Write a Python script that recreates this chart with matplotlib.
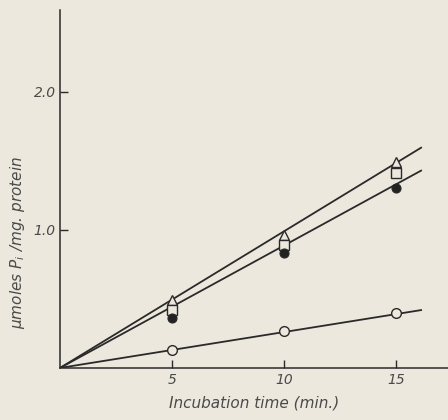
import matplotlib
matplotlib.use('Agg')
import matplotlib.pyplot as plt
import numpy as np

# Incubation time (min.)
times = [5, 10, 15]
# umoles Pi / mg protein
triangles = [0.49, 0.96, 1.49]
squares = [0.42, 0.89, 1.41]
filled_circles = [0.36, 0.83, 1.30]
open_circles = [0.13, 0.27, 0.40]
# fitted lines: slope per minute, drawn from the origin
line_slopes = [0.099, 0.0887, 0.026]
line_end = 16.1

bg = '#ece8de'
ink = '#2a2a2a'
text_col = '#4a4a4a'

fig = plt.figure(figsize=(4.48, 4.20), dpi=100, facecolor=bg)
ax = fig.add_axes([0.134, 0.124, 0.866, 0.852], facecolor=bg)

t = np.array([0, line_end])
for s in line_slopes:
    ax.plot(t, s * t, color=ink, lw=1.3, zorder=2)

ax.plot(times, triangles, ls='none', marker='^', ms=7.5, mfc=bg, mec=ink, mew=1.0, zorder=3)
ax.plot(times, squares, ls='none', marker='s', ms=6.5, mfc=bg, mec=ink, mew=1.0, zorder=3)
ax.plot(times, filled_circles, ls='none', marker='o', ms=6.5, mfc='#222222', mec=ink, mew=0.8, zorder=3)
ax.plot(times, open_circles, ls='none', marker='o', ms=7, mfc=bg, mec=ink, mew=1.0, zorder=3)

ax.set_xlim(0, 17.3)
ax.set_ylim(0, 2.59)
ax.spines['top'].set_visible(False)
ax.spines['right'].set_visible(False)
for sp in ('left', 'bottom'):
    ax.spines[sp].set_color(ink)
    ax.spines[sp].set_linewidth(1.1)

ax.set_xticks([5, 10, 15])
ax.set_xticklabels(['5', '10', '15'])
ax.set_yticks([1.0, 2.0])
ax.set_yticklabels(['1.0', '2.0'])
ax.tick_params(axis='both', direction='in', length=6, width=1.0, color=ink,
               labelcolor=text_col, labelsize=10)
ax.tick_params(axis='y', pad=3)
for lab in ax.get_xticklabels() + ax.get_yticklabels():
    lab.set_fontstyle('italic')

ax.set_xlabel('Incubation time (min.)', fontsize=11, style='italic', color=text_col, labelpad=6)
ax.set_ylabel(r'$\mu$moles P$_i$ /mg. protein', fontsize=11, style='italic', color=text_col)
ax.yaxis.set_label_coords(-0.085, 0.35)

fig.savefig('out.png', dpi=100, facecolor=bg)
